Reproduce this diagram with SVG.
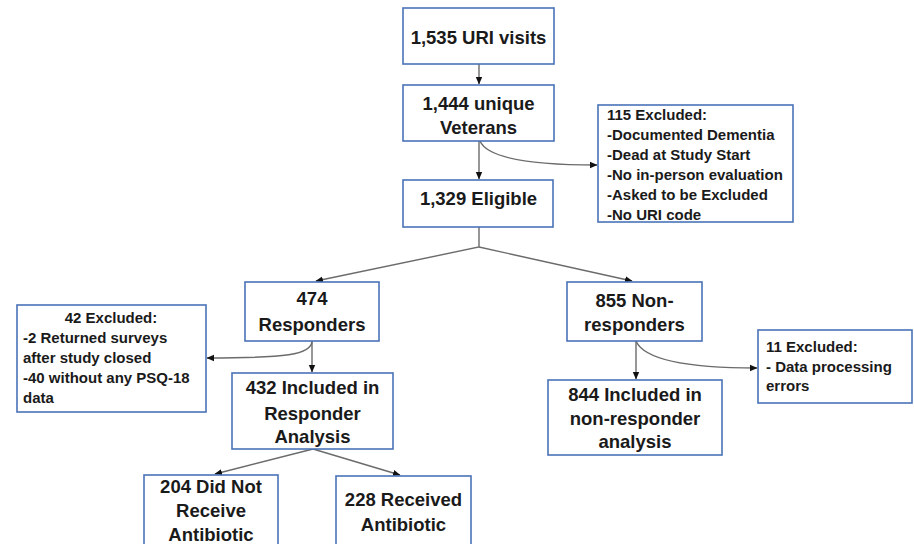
<svg xmlns="http://www.w3.org/2000/svg" width="914" height="544" viewBox="0 0 914 544">
<defs>
<marker id="ah" markerUnits="userSpaceOnUse" markerWidth="8" markerHeight="8" viewBox="0 0 8 8" refX="7" refY="4" orient="auto">
<path d="M0,0.8 L7.5,4 L0,7.2 Z" fill="#111"/>
</marker>
<style>
.box{fill:#fff;stroke:#4a72b8;stroke-width:1.6}
.t{font-family:"Liberation Sans",Arial,sans-serif;font-weight:bold;font-size:18.5px;fill:#1a1a1a;text-anchor:middle}
.s{font-family:"Liberation Sans",Arial,sans-serif;font-weight:bold;font-size:15px;fill:#1a1a1a}
.c{fill:none;stroke:#6b6b6b;stroke-width:1.4}
</style>
</defs>
<rect width="914" height="544" fill="#fff"/>
<g id="connectors">
<path class="c" d="M479,64 L479,84" marker-end="url(#ah)"/>
<path class="c" d="M479,141 L479,179" marker-end="url(#ah)"/>
<path class="c" d="M480,141 C488,160 540,165 597,165" marker-end="url(#ah)"/>
<path class="c" d="M479,227 L479,247 L316,281" marker-end="url(#ah)"/>
<path class="c" d="M479,247 L632,281" marker-end="url(#ah)"/>
<path class="c" d="M312,341 L312,372" marker-end="url(#ah)"/>
<path class="c" d="M312,341 C312,355 285,358 207,358" marker-end="url(#ah)"/>
<path class="c" d="M636,341 L636,379" marker-end="url(#ah)"/>
<path class="c" d="M636,341 C645,362 700,368 757,368" marker-end="url(#ah)"/>
<path class="c" d="M313,449 L215,474" marker-end="url(#ah)"/>
<path class="c" d="M313,449 L400,475" marker-end="url(#ah)"/>
</g>
<g id="n1">
<rect class="box" x="403" y="8" width="151" height="56"/>
<text class="t" x="478.5" y="44">1,535 URI visits</text>
</g>
<g id="n2">
<rect class="box" x="403" y="85" width="151" height="56"/>
<text class="t" x="478.5" y="110">1,444 unique</text>
<text class="t" x="478.5" y="134">Veterans</text>
</g>
<g id="n3">
<rect class="box" x="403" y="180" width="150" height="47"/>
<text class="t" x="478.5" y="205">1,329 Eligible</text>
</g>
<g id="ex115">
<rect class="box" x="598" y="105" width="195" height="117"/>
<text class="s" x="607" y="120">115 Excluded:</text>
<text class="s" x="607" y="140">-Documented Dementia</text>
<text class="s" x="607" y="160">-Dead at Study Start</text>
<text class="s" x="607" y="180">-No in-person evaluation</text>
<text class="s" x="607" y="200">-Asked to be Excluded</text>
<text class="s" x="607" y="220">-No URI code</text>
</g>
<g id="resp">
<rect class="box" x="245" y="282" width="134" height="59"/>
<text class="t" x="312" y="305">474</text>
<text class="t" x="312" y="331">Responders</text>
</g>
<g id="nonresp">
<rect class="box" x="567" y="282" width="135" height="59"/>
<text class="t" x="634.5" y="307">855 Non-</text>
<text class="t" x="634.5" y="331">responders</text>
</g>
<g id="ex42">
<rect class="box" x="17" y="305" width="189" height="107"/>
<text class="s" x="111" y="323" text-anchor="middle">42 Excluded:</text>
<text class="s" x="23" y="343">-2 Returned surveys</text>
<text class="s" x="23" y="363">after study closed</text>
<text class="s" x="23" y="383">-40 without any PSQ-18</text>
<text class="s" x="23" y="403">data</text>
</g>
<g id="inc432">
<rect class="box" x="232" y="373" width="161" height="76"/>
<text class="t" x="312.5" y="394">432 Included in</text>
<text class="t" x="312.5" y="420">Responder</text>
<text class="t" x="312.5" y="443">Analysis</text>
</g>
<g id="inc844">
<rect class="box" x="548" y="380" width="174" height="75"/>
<text class="t" x="635" y="401">844 Included in</text>
<text class="t" x="635" y="425">non-responder</text>
<text class="t" x="635" y="448">analysis</text>
</g>
<g id="ex11">
<rect class="box" x="758" y="330" width="154" height="73"/>
<text class="s" x="766" y="352">11 Excluded:</text>
<text class="s" x="766" y="372">- Data processing</text>
<text class="s" x="766" y="391">errors</text>
</g>
<g id="noabx">
<rect class="box" x="144" y="475" width="134" height="80"/>
<text class="t" x="211" y="493">204 Did Not</text>
<text class="t" x="211" y="517">Receive</text>
<text class="t" x="211" y="541">Antibiotic</text>
</g>
<g id="abx">
<rect class="box" x="336" y="476" width="135" height="80"/>
<text class="t" x="403.5" y="506">228 Received</text>
<text class="t" x="403.5" y="531">Antibiotic</text>
</g>
</svg>
